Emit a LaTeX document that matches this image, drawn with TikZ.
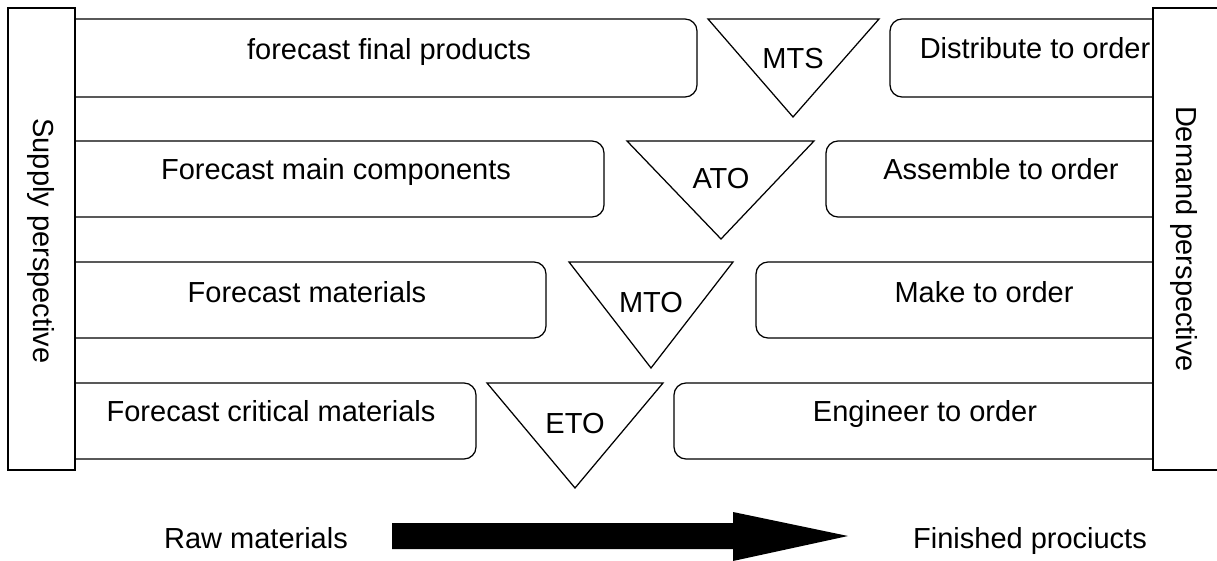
\documentclass[tikz,border=0pt]{standalone}
\usepackage{fontspec}
\setmainfont{Liberation Sans}
\begin{document}
\begin{tikzpicture}[x=1pt,y=-1pt,
  box/.style={draw=black, line width=1.25pt, rounded corners=12pt, fill=white},
  sidebar/.style={draw=black, line width=2pt, fill=white},
  tri/.style={draw=black, line width=1.25pt, line join=miter},
  lbl/.style={font=\fontsize{29}{34}\selectfont, anchor=base, inner sep=0pt},
  vlbl/.style={font=\fontsize{29}{34}\selectfont, anchor=center, inner sep=0pt, rotate=-90},
]
\useasboundingbox (0,0) rectangle (1217,561);
% row boxes
\draw[box] (55,19) rectangle (697,97);
\draw[box] (890,19) rectangle (1180,97);
\draw[box] (55,141) rectangle (604,217);
\draw[box] (826,141) rectangle (1180,217);
\draw[box] (55,262) rectangle (546,338);
\draw[box] (756,262) rectangle (1180,338);
\draw[box] (55,383) rectangle (476,459);
\draw[box] (674,383) rectangle (1180,459);
% triangles
\draw[tri] (708,19) -- (879,19) -- (793,117) -- cycle;
\draw[tri] (627,141) -- (814,141) -- (721,239) -- cycle;
\draw[tri] (569,262) -- (733,262) -- (651,368) -- cycle;
\draw[tri] (487,383) -- (663,383) -- (575,488) -- cycle;
% row texts
\node[lbl] (t1l) at (389,60) {forecast final products};
\node[lbl] (t1r) at (1035,59) {Distribute to order};
\node[lbl] (mts) at (793,69) {MTS};
\node[lbl] (t2l) at (336,180) {Forecast main components};
\node[lbl] (t2r) at (1001,180) {Assemble to order};
\node[lbl] (ato) at (721,189) {ATO};
\node[lbl] (t3l) at (307,302) {Forecast materials};
\node[lbl] (t3r) at (984,302) {Make to order};
\node[lbl] (mto) at (651,312) {MTO};
\node[lbl] (t4l) at (271,421) {Forecast critical materials};
\node[lbl] (t4r) at (925,421) {Engineer to order};
\node[lbl] (eto) at (575,433) {ETO};
% side bars
\draw[sidebar] (8,8) rectangle (75,470);
\draw[sidebar] (1153,8) rectangle (1240,470);
\node[vlbl] (sup) at (41,241) {Supply perspective};
\node[vlbl] (dem) at (1184,239) {Demand perspective};
% bottom arrow
\fill[black] (392,523) -- (733,523) -- (733,512) -- (848,536) -- (733,561) -- (733,549) -- (392,549) -- cycle;
\node[lbl] (raw) at (256,548) {Raw materials};
\node[lbl] (fin) at (1030,548) {Finished prociucts};
\end{tikzpicture}
\end{document}
